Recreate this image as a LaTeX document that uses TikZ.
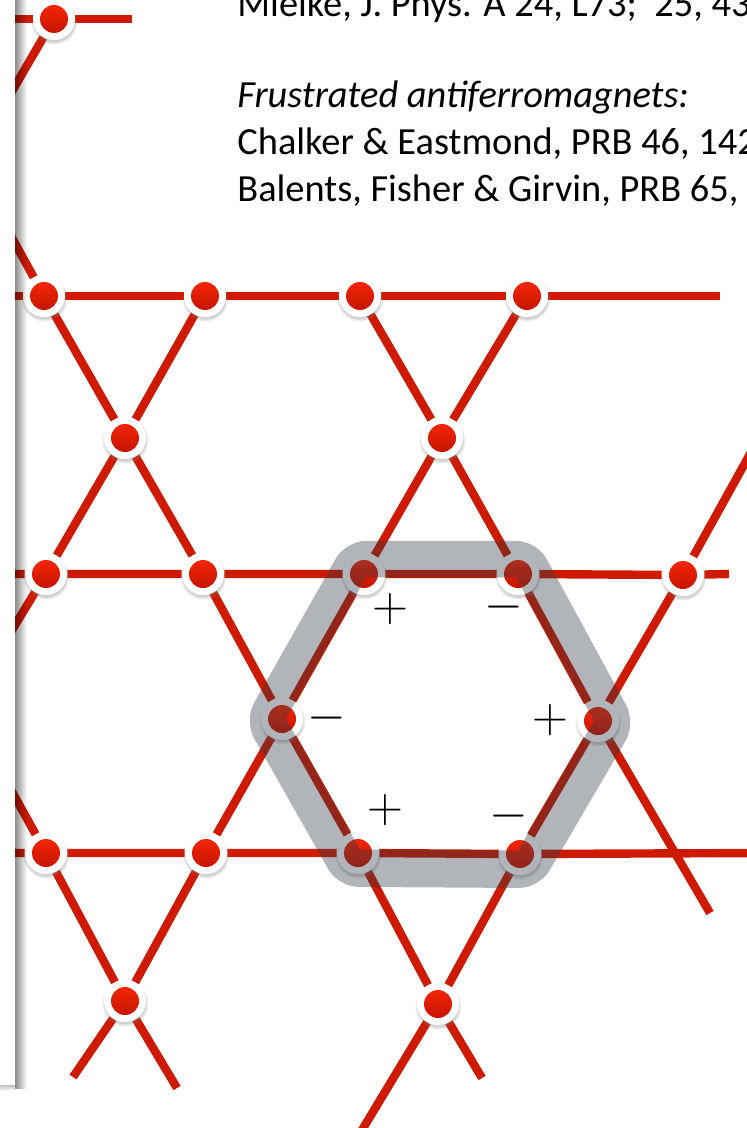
\documentclass[tikz,border=0pt]{standalone}
\usepackage{fontspec}
\setmainfont{Carlito}
\usepackage{xcolor}
\usetikzlibrary{positioning, calc, backgrounds, fadings, shadows}
\definecolor{latred}{RGB}{206,26,0}
\definecolor{dotlight}{RGB}{255,42,8}
\definecolor{dotdark}{RGB}{186,16,0}
\definecolor{bandgray}{RGB}{52,60,72}

\tikzset{
  bond/.style={draw=latred, line width=4.2pt},
  site/.style={circle, fill=white, inner sep=0pt, minimum size=21pt,
    circular drop shadow={shadow xshift=0pt, shadow yshift=-1pt, shadow scale=1.12, opacity=0.35},
    path picture={\shade[top color=dotlight, middle color=dotlight, bottom color=dotdark]
      (path picture bounding box.center) circle (7pt);}},
  band/.style={fill=bandgray, fill opacity=0.38, even odd rule},
  sign/.style={font=\fontsize{25}{30}\selectfont, inner sep=0pt},
  reftext/.style={font=\fontsize{19.2}{23}\selectfont, anchor=base west, inner sep=0pt}
}

\begin{document}
\begin{tikzpicture}[x=0.5pt, y=-0.5pt]
  \useasboundingbox (0,0) rectangle (747,1128);

  % references
  \node[reftext] (mielke) at (237,17) {Mielke, J. Phys. A 24, L73;~ 25, 43};
  \node[reftext] (frust) at (237,107.5) {\itshape Frustrated antiferromagnets:};
  \node[reftext] (chalker) at (237,155) {Chalker \& Eastmond, PRB 46, 142};
  \node[reftext] (balents) at (237,201.5) {Balents, Fisher \& Girvin, PRB 65,};

  % kagome sites
  \node[site] (t1) at (54,19) {};
  \node[site] (a1) at (44,296) {};
  \node[site] (a2) at (205,296) {};
  \node[site] (a3) at (360,296) {};
  \node[site] (a4) at (527,296) {};
  \node[site] (b1) at (125,438) {};
  \node[site] (b2) at (442,438) {};
  \node[site] (c1) at (46,574) {};
  \node[site] (c2) at (203,574) {};
  \node[site] (c3) at (364,574) {};
  \node[site] (c4) at (518,574) {};
  \node[site] (c5) at (683,575) {};
  \node[site] (d1) at (282,719) {};
  \node[site] (d2) at (598,721) {};
  \node[site] (e1) at (46,853) {};
  \node[site] (e2) at (206,853) {};
  \node[site] (e3) at (358,853) {};
  \node[site] (e4) at (520,854) {};
  \node[site] (f1) at (125,1001) {};
  \node[site] (f2) at (438,1004) {};

  % free ends of the lattice lines
  \coordinate (r0L) at (0,19);    \coordinate (r0R) at (132,19);
  \coordinate (r1L) at (0,296);   \coordinate (r1R) at (720,296);
  \coordinate (r2L) at (0,574);   \coordinate (r2R) at (729,574);
  \coordinate (r3L) at (0,853);   \coordinate (r3R) at (760,853);
  \coordinate (aS) at (0,216);    \coordinate (aE) at (482,1078);
  \coordinate (bE) at (710,913);
  \coordinate (cS) at (0,770);    \coordinate (cE) at (177,1088);
  \coordinate (dE) at (73,1077);
  \coordinate (eE) at (0,650);
  \coordinate (fE) at (0,112);
  \coordinate (gS) at (760,436);  \coordinate (gE) at (356,1140);

  \begin{scope}[on background layer]
    \fill[white] (0,0) rectangle (747,1128);
    % horizontal rows
    \draw[bond] (r0L) -- (t1) -- (r0R);
    \draw[bond] (r1L) -- (a1) -- (a2) -- (a3) -- (a4) -- (r1R);
    \draw[bond] (r2L) -- (c1) -- (c2) -- (c3) -- (c4) -- (c5) -- (r2R);
    \draw[bond] (r3L) -- (e1) -- (e2) -- (e3) -- (e4) -- (r3R);
    % diagonals
    \draw[bond] (aS) -- (a1) -- (b1) -- (c2) -- (d1) -- (e3) -- (f2) -- (aE);
    \draw[bond] (a3) -- (b2) -- (c4) -- (d2) -- (bE);
    \draw[bond] (cS) -- (e1) -- (f1) -- (cE);
    \draw[bond] (a4) -- (b2) -- (c3) -- (d1) -- (e2) -- (f1) -- (dE);
    \draw[bond] (a2) -- (b1) -- (c1) -- (eE);
    \draw[bond] (t1) -- (fE);
    \draw[bond] (gS) -- (c5) -- (d2) -- (e4) -- (f2) -- (gE);
  \end{scope}

  % hexagon loop
  \coordinate (hc) at (440,712);
  \fill[band] [rounded corners=10pt]
    ($(hc)!1.24!(c3)$) -- ($(hc)!1.24!(c4)$) -- ($(hc)!1.24!(d2)$) --
    ($(hc)!1.24!(e4)$) -- ($(hc)!1.24!(e3)$) -- ($(hc)!1.24!(d1)$) -- cycle
    [sharp corners]
    ($(hc)!0.975!(c3)$) -- ($(hc)!0.975!(c4)$) -- ($(hc)!0.975!(d2)$) --
    ($(hc)!0.975!(e4)$) -- ($(hc)!0.975!(e3)$) -- ($(hc)!0.975!(d1)$) -- cycle;

  % signs round the loop
  \node[sign] (p1) at ($(c3)+(26,35)$) {$+$};
  \node[sign] (m1) at ($(c4)+(-14,33)$) {$-$};
  \node[sign] (m2) at ($(d1)+(45,-1)$) {$-$};
  \node[sign] (p2) at ($(d2)+(-48,-1)$) {$+$};
  \node[sign] (p3) at ($(e3)+(27,-43)$) {$+$};
  \node[sign] (m3) at ($(e4)+(-11,-38)$) {$-$};

  % slide edge on the left
  \fill[white] (-10,-10) rectangle (15,1085);
  \fill[black, opacity=0.45, path fading=east] (15,-10) rectangle (27,1089);
  \fill[black, opacity=0.25, path fading=south] (-10,1085) rectangle (15,1091);
\end{tikzpicture}
\end{document}
